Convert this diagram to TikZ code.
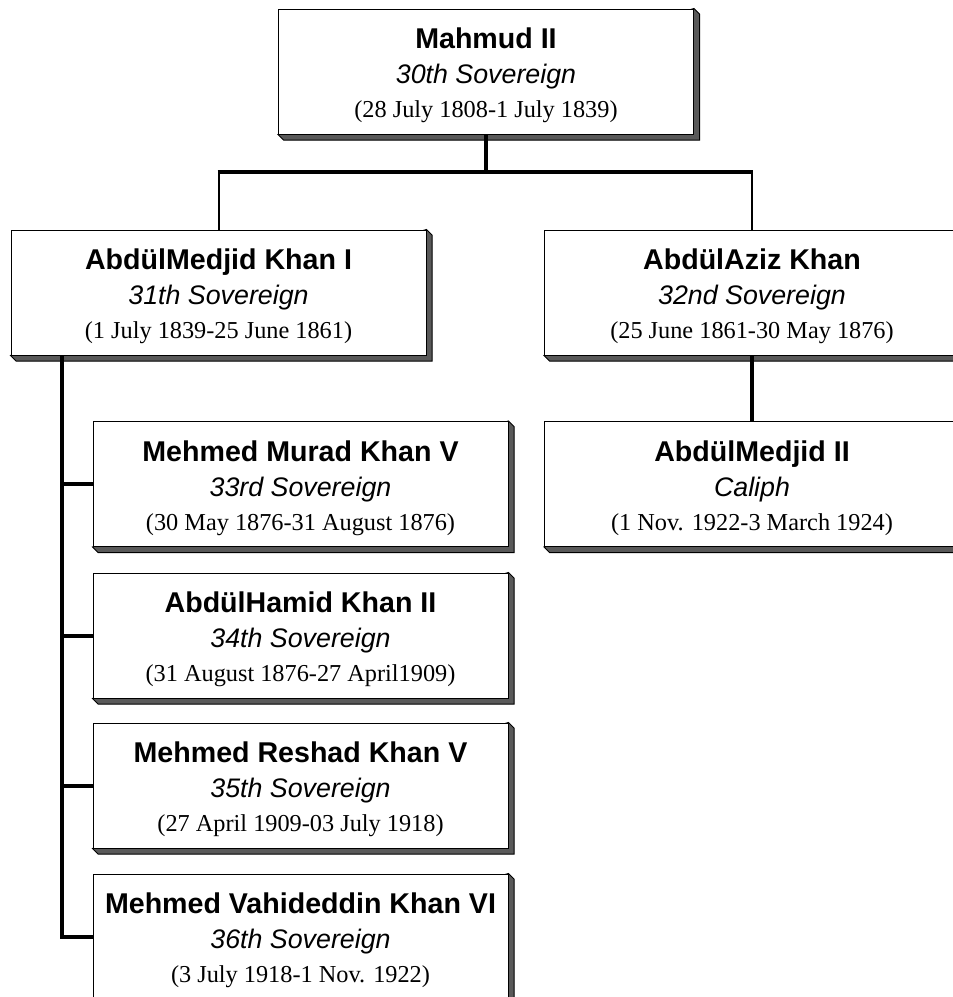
\documentclass[tikz,border=0pt]{standalone}
\usepackage{fontspec}
\setmainfont{Liberation Serif}
\setsansfont{Liberation Sans}
\usetikzlibrary{backgrounds}
\newcommand\nmfont{\sffamily\bfseries\fontsize{28.6}{30}\selectfont}
\newcommand\rkfont{\sffamily\itshape\fontsize{26.8}{29}\selectfont}
\newcommand\dtfont{\rmfamily\fontsize{24.3}{26}\selectfont}
\tikzset{
  person/.style={draw=black, line width=1pt, fill=white, minimum width=415pt, minimum height=125pt, inner sep=0pt},
  nameline/.style={anchor=base, inner sep=0pt, font=\nmfont},
  rankline/.style={anchor=base, inner sep=0pt, font=\rkfont},
  dateline/.style={anchor=base, inner sep=0pt, font=\dtfont},
  thickline/.style={line width=4pt},
  thinline/.style={line width=2pt},
  shadowfill/.style={fill=black!65, draw=black, line width=1pt}
}
\newcommand\personbox[5]{%
  \node[person] (#1) at (#2) {};
  \node[nameline] (#1-n) at ([yshift=-40pt]#1.north) {#3};
  \node[rankline] (#1-r) at ([yshift=-75pt]#1.north) {#4};
  \node[dateline] (#1-d) at ([yshift=-109pt]#1.north) {#5};
}
\begin{document}
\begin{tikzpicture}[x=1pt, y=-1pt]
\useasboundingbox (0,0) rectangle (953,997);
\clip (0,0) rectangle (953,997);

\personbox{mahmud}{486,71.5}{Mahmud II}{30th Sovereign}{(28 July 1808-1 July 1839)}
\personbox{ami}{218.5,292.5}{AbdülMedjid Khan I}{31th Sovereign}{(1 July 1839-25 June 1861)}
\personbox{aak}{752,292.5}{AbdülAziz Khan}{32nd Sovereign}{(25 June 1861-30 May 1876)}
\personbox{amii}{752,484}{AbdülMedjid II}{Caliph}{(1 Nov. 1922-3 March 1924)}
\personbox{murad}{300.5,484}{Mehmed Murad Khan V}{33rd Sovereign}{(30 May 1876-31 August 1876)}
\personbox{hamid}{300.5,635.5}{AbdülHamid Khan II}{34th Sovereign}{(31 August 1876-27 April1909)}
\personbox{reshad}{300.5,785.5}{Mehmed Reshad Khan V}{35th Sovereign}{(27 April 1909-03 July 1918)}
\personbox{vahid}{300.5,936.5}{Mehmed Vahideddin Khan VI}{36th Sovereign}{(3 July 1918-1 Nov. 1922)}

\begin{scope}[on background layer]
\foreach \n in {mahmud,ami,aak,amii,murad,hamid,reshad,vahid}
  \filldraw[shadowfill] (\n.north east) -- ++(5.5,5.5) -- ([shift={(5.5,5.5)}]\n.south east)
    -- ([shift={(5.5,5.5)}]\n.south west) -- (\n.south west) -- cycle;
\end{scope}

\draw[thickline] (mahmud.south) -- ++(0,37) coordinate (junc);
\draw[thickline] ([xshift=-1pt]junc -| ami.north) -- ([xshift=1pt]junc -| aak.north);
\draw[thinline] (junc -| ami.north) -- (ami.north);
\draw[thinline] (junc -| aak.north) -- (aak.north);
\draw[thickline] (aak.south) -- (amii.north);
\coordinate (trunk) at ([xshift=51pt]ami.south west);
\draw[thickline] (trunk) |- (vahid.west);
\foreach \n in {murad,hamid,reshad}
  \draw[thickline] (trunk |- \n.west) -- (\n.west);
\end{tikzpicture}
\end{document}
